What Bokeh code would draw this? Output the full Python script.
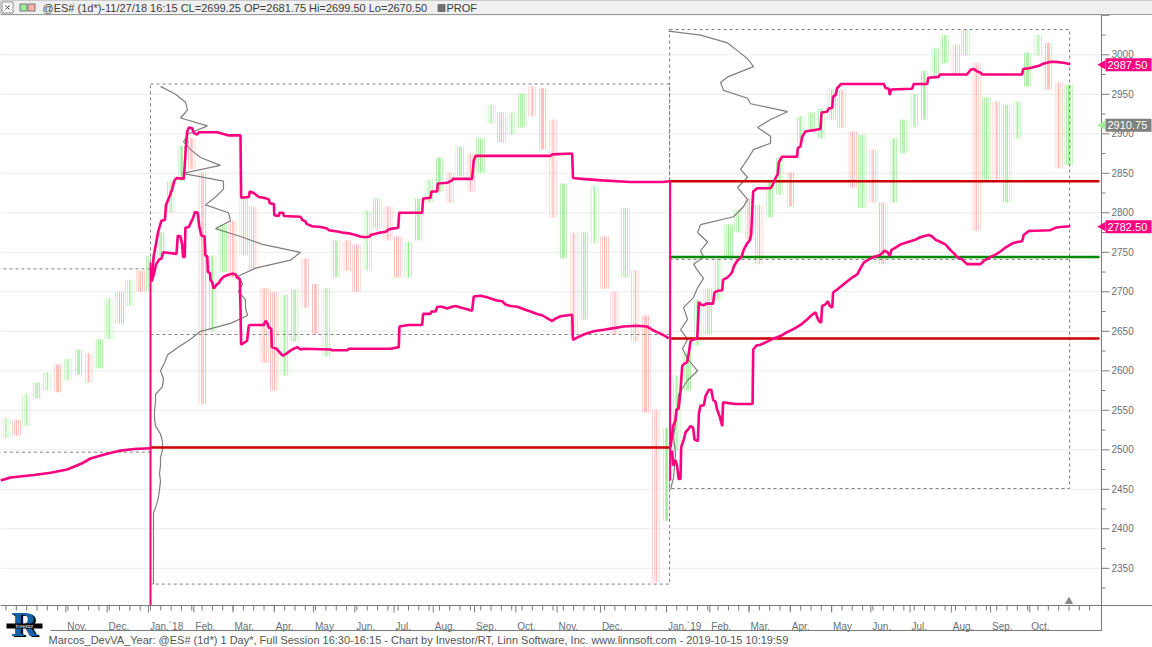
from bokeh.plotting import figure
from bokeh.models import Range1d
from bokeh.embed import file_html
from bokeh.resources import INLINE
from bokeh.core.properties import value

# ---------------- data (bar index: 0 = first session of 2018) ----------------
bar_x = list(range(-70, 446, 5))          # weekly bars
bar_hi = [2540, 2538, 2570, 2585, 2598, 2608, 2615, 2627, 2622, 2640, 2692, 2700, 2715, 2727,
          2746, 2775, 2840, 2885, 2895, 2851, 2746, 2785, 2790, 2818, 2808, 2705, 2700, 2696,
          2703, 2742, 2710, 2705, 2765, 2765, 2760, 2803, 2818, 2808, 2770, 2763, 2818, 2842,
          2870, 2851, 2884, 2875, 2894, 2937, 2927, 2927, 2951, 2960, 2958, 2918, 2837, 2775,
          2775, 2834, 2770, 2700, 2806, 2727, 2670, 2551, 2528, 2594, 2623, 2690, 2704, 2742,
          2785, 2804, 2818, 2810, 2842, 2870, 2851, 2922, 2927, 2932, 2956, 2956, 2903, 2899,
          2880, 2813, 2894, 2918, 2951, 2980, 3008, 3025, 3013, 3032, 2990, 2946, 2941, 2937,
          2941, 3003, 3025, 3015, 2965, 2962]
bar_lo = [2515, 2518, 2530, 2565, 2575, 2573, 2588, 2595, 2585, 2603, 2640, 2660, 2682, 2700,
          2700, 2745, 2800, 2840, 2855, 2558, 2650, 2725, 2718, 2746, 2728, 2610, 2575, 2594,
          2637, 2680, 2647, 2618, 2718, 2727, 2700, 2727, 2780, 2765, 2718, 2718, 2765, 2813,
          2827, 2813, 2846, 2827, 2851, 2913, 2889, 2899, 2908, 2922, 2880, 2794, 2742, 2647,
          2665, 2761, 2704, 2647, 2718, 2637, 2547, 2332, 2410, 2499, 2575, 2632, 2646, 2690,
          2742, 2775, 2765, 2735, 2794, 2823, 2808, 2889, 2903, 2894, 2918, 2908, 2832, 2806,
          2813, 2735, 2813, 2875, 2908, 2918, 2970, 2989, 2975, 2999, 2777, 2842, 2842, 2813,
          2894, 2960, 2999, 2956, 2856, 2860]
bar_op = [2520, 2535, 2532, 2567, 2580, 2600, 2590, 2598, 2618, 2605, 2645, 2695, 2685, 2722,
          2705, 2748, 2802, 2842, 2890, 2845, 2660, 2730, 2780, 2750, 2800, 2700, 2650, 2600,
          2645, 2735, 2705, 2625, 2722, 2760, 2755, 2730, 2785, 2805, 2765, 2722, 2770, 2815,
          2830, 2848, 2850, 2872, 2855, 2915, 2925, 2902, 2910, 2955, 2950, 2910, 2750, 2770,
          2670, 2765, 2765, 2695, 2725, 2720, 2660, 2545, 2415, 2505, 2580, 2635, 2650, 2692,
          2745, 2778, 2810, 2805, 2798, 2826, 2848, 2892, 2905, 2898, 2920, 2950, 2898, 2810,
          2875, 2808, 2815, 2880, 2910, 2920, 2972, 2992, 3010, 3000, 2985, 2845, 2938, 2820,
          2898, 2962, 3002, 3012, 2960, 2870]
bar_cl = [2535, 2522, 2568, 2582, 2595, 2580, 2612, 2622, 2592, 2636, 2688, 2672, 2712, 2708,
          2742, 2772, 2836, 2880, 2860, 2620, 2740, 2780, 2730, 2812, 2735, 2620, 2600, 2680,
          2698, 2690, 2655, 2700, 2760, 2740, 2705, 2798, 2812, 2770, 2722, 2760, 2815, 2840,
          2866, 2820, 2880, 2832, 2890, 2934, 2894, 2924, 2948, 2930, 2885, 2800, 2830, 2660,
          2770, 2830, 2710, 2655, 2800, 2640, 2555, 2345, 2520, 2590, 2620, 2685, 2700, 2740,
          2780, 2800, 2775, 2745, 2840, 2865, 2815, 2918, 2925, 2930, 2952, 2912, 2840, 2890,
          2818, 2745, 2890, 2912, 2948, 2975, 3005, 3020, 2980, 3028, 2830, 2940, 2850, 2930,
          2938, 3000, 3020, 2960, 2880, 2911]

# 2017 lower deviation line (ends at start of 2018)
dev17_x = [-72.7, -67.8, -56.5, -48.4, -40.4, -33.9, -29.1, -21.0, -14.5, -8.1, 0.0]
dev17_v = [2461, 2465, 2468, 2471, 2475, 2482, 2489, 2495, 2499, 2501, 2502]

# 2018 upper deviation band
up18_x = [0.5, 1.6, 2.6, 3.7, 5.3, 7.0, 7.5, 9.4, 10.5, 11.6, 12.6, 16.1, 16.6, 17.1, 17.8, 18.6,
          20.2, 21.0, 22.6, 23.4, 32.3, 37.9, 43.6, 43.9, 47.6, 48.1, 50.0, 52.5, 54.9, 57.3,
          57.8, 59.8, 60.0, 62.2, 62.5, 64.3, 64.6, 72.7, 73.5, 75.1, 75.6, 78.3, 82.4, 85.6,
          86.4, 91.3, 92.9, 96.1, 99.3, 101.7, 104.2, 106.3, 106.6, 111.4, 113.9, 115.5, 117.1,
          120.0, 120.5, 131.6, 132.1, 135.7, 136.1, 138.9, 139.2, 143.7, 146.1, 146.6, 155.8,
          156.6, 157.5, 193.8, 194.6, 204.3, 204.7, 209.1, 218.8, 232.5, 247.9, 251.8]
up18_v = [2715, 2746, 2760, 2776, 2790, 2791, 2810, 2822, 2830, 2841, 2844, 2843, 2860, 2882,
          2903, 2908, 2907, 2901, 2899, 2902, 2902, 2898, 2898, 2819, 2820, 2827, 2825, 2820,
          2819, 2817, 2812, 2811, 2797, 2796, 2800, 2800, 2796, 2795, 2791, 2789, 2786, 2783,
          2782, 2780, 2778, 2776, 2775, 2774, 2772, 2770, 2769, 2770, 2772, 2775, 2776, 2779,
          2780, 2781, 2800, 2800, 2818, 2819, 2827, 2827, 2837, 2838, 2841, 2843, 2843, 2866,
          2872, 2872, 2874, 2875, 2844, 2843, 2841, 2839, 2839, 2840]

# 2018 lower deviation band
lo18_x = [0.5, 1.6, 2.6, 4.2, 5.3, 6.1, 12.6, 13.2, 14.5, 15.3, 15.8, 16.6, 16.9, 18.6, 19.4,
          20.2, 20.7, 21.5, 22.9, 23.6, 24.7, 26.2, 26.6, 27.5, 27.8, 28.8, 29.1, 29.9, 30.7,
          32.0, 33.1, 33.9, 35.5, 37.1, 39.6, 41.2, 42.0, 43.3, 43.6, 43.9, 46.8, 47.6, 48.4,
          54.9, 55.7, 56.5, 57.3, 58.5, 58.8, 61.0, 63.0, 64.3, 65.4, 67.0, 68.6, 71.1, 72.7,
          74.3, 87.2, 88.0, 95.3, 96.1, 116.3, 120.3, 120.6, 122.7, 125.2, 131.6, 132.1, 135.7,
          136.1, 138.1, 138.9, 141.3, 143.7, 146.1, 147.8, 150.2, 153.4, 155.8, 156.6, 159.9,
          163.1, 165.5, 167.9, 170.4, 172.0, 174.4, 177.7, 180.9, 184.1, 187.3, 190.0, 194.6,
          196.2, 198.6, 204.3, 204.7, 206.7, 209.9, 214.7, 219.6, 224.4, 229.3, 235.7, 240.6,
          243.0, 245.4, 248.7, 251.1]
lo18_v = [2713, 2722, 2734, 2741, 2742, 2750, 2748, 2771, 2770, 2761, 2744, 2744, 2781, 2782,
          2787, 2791, 2794, 2801, 2800, 2783, 2771, 2770, 2746, 2745, 2725, 2724, 2715, 2712,
          2704, 2709, 2711, 2715, 2719, 2721, 2723, 2722, 2718, 2716, 2680, 2633, 2638, 2657,
          2658, 2658, 2663, 2661, 2655, 2653, 2630, 2628, 2622, 2619, 2621, 2624, 2627, 2630,
          2627, 2628, 2627, 2626, 2626, 2628, 2628, 2630, 2656, 2657, 2658, 2658, 2672, 2672,
          2675, 2675, 2681, 2681, 2679, 2681, 2682, 2680, 2678, 2676, 2694, 2695, 2693, 2691,
          2689, 2688, 2684, 2682, 2681, 2678, 2675, 2672, 2670, 2663, 2666, 2669, 2671, 2639,
          2642, 2646, 2650, 2652, 2654, 2656, 2657, 2656, 2652, 2649, 2645, 2641]

# 2019 upper deviation band
up19_x = [252.0, 253.2, 254.3, 254.8, 255.9, 256.8, 257.6, 258.7, 260.0, 260.8, 261.6, 262.4,
          264.9, 265.7, 266.5, 268.1, 269.2, 272.6, 273.2, 274.5, 277.0, 277.4, 279.4, 281.0,
          281.8, 282.6, 284.2, 285.5, 286.6, 287.4, 289.0, 290.3, 291.0, 292.0, 293.9, 300.4,
          301.2, 302.0, 302.8, 303.9, 304.4, 306.0, 313.3, 313.6, 314.9, 315.7, 317.3, 324.6,
          325.1, 327.8, 328.6, 330.3, 330.7, 331.9, 332.7, 334.6, 355.3, 356.1, 357.7, 358.2,
          358.8, 369.0, 369.8, 376.3, 376.8, 381.9, 382.4, 395.6, 397.3, 398.9, 400.5, 402.4,
          402.9, 422.3, 422.8, 425.5, 427.2, 430.4, 432.8, 436.0, 438.4, 442.5, 445.6]
up19_v = [2503, 2530, 2537, 2551, 2552, 2575, 2606, 2609, 2611, 2622, 2637, 2639, 2641, 2687,
          2684, 2683, 2685, 2685, 2699, 2701, 2702, 2715, 2718, 2722, 2725, 2732, 2739, 2742,
          2746, 2753, 2761, 2765, 2772, 2827, 2831, 2831, 2834, 2839, 2844, 2849, 2864, 2871,
          2871, 2882, 2884, 2896, 2903, 2906, 2927, 2928, 2932, 2933, 2947, 2949, 2958, 2963,
          2963, 2958, 2957, 2949, 2956, 2957, 2963, 2963, 2971, 2972, 2975, 2975, 2981, 2982,
          2979, 2977, 2975, 2975, 2982, 2983, 2984, 2986, 2989, 2991, 2991, 2990, 2988]

# 2019 lower deviation band
lo19_x = [252.7, 253.2, 254.3, 255.1, 255.9, 256.8, 257.1, 258.4, 259.2, 260.8, 261.6, 262.9,
          263.6, 265.2, 265.7, 266.5, 268.1, 268.9, 270.5, 271.7, 272.6, 273.7, 274.5, 275.8,
          277.0, 277.4, 283.4, 291.7, 292.0, 293.6, 295.5, 298.8, 302.0, 305.2, 308.4, 311.7,
          314.9, 318.1, 320.5, 322.2, 323.0, 323.8, 324.9, 325.4, 327.0, 328.2, 329.1, 330.3,
          330.7, 332.7, 335.1, 337.5, 339.9, 342.4, 344.0, 345.6, 348.0, 350.5, 353.7, 355.6,
          357.2, 358.2, 359.0, 361.0, 363.4, 365.8, 368.2, 370.6, 373.0, 375.5, 377.1, 378.7,
          380.3, 382.7, 385.1, 387.5, 389.5, 390.8, 393.2, 394.8, 395.6, 402.1, 403.7, 406.9,
          409.4, 411.8, 414.2, 417.4, 419.9, 422.3, 423.1, 425.5, 436.0, 438.4, 440.8, 445.6]
lo19_v = [2499, 2480, 2487, 2480, 2463, 2463, 2503, 2513, 2522, 2527, 2530, 2528, 2513, 2511,
          2546, 2556, 2556, 2568, 2576, 2576, 2563, 2561, 2551, 2542, 2530, 2560, 2558, 2558,
          2627, 2632, 2633, 2637, 2641, 2644, 2649, 2653, 2658, 2665, 2671, 2674, 2668, 2663,
          2661, 2682, 2684, 2688, 2682, 2680, 2699, 2703, 2708, 2713, 2718, 2722, 2730, 2737,
          2741, 2744, 2747, 2752, 2750, 2745, 2753, 2756, 2760, 2762, 2764, 2766, 2769, 2771,
          2772, 2770, 2766, 2763, 2760, 2753, 2748, 2744, 2741, 2737, 2735, 2735, 2739, 2744,
          2747, 2751, 2756, 2761, 2763, 2764, 2772, 2777, 2778, 2781, 2782, 2783]

# year-change connectors of the deviation lines
conn_x = [0.0, 251.8]
conn_lo = [2303, 2461]
conn_hi = [2737, 2840]

# yearly volume profiles (anchored at first bar of the year)
year_start = [0, 251]
prof18_price = [2330, 2340, 2350, 2360, 2370, 2380, 2390, 2400, 2410, 2420, 2430, 2440, 2450,
                2460, 2470, 2480, 2490, 2500, 2510, 2520, 2530, 2540, 2550, 2560, 2570, 2580,
                2590, 2600, 2610, 2620, 2630, 2640, 2650, 2660, 2670, 2680, 2690, 2700, 2710,
                2720, 2730, 2740, 2750, 2760, 2770, 2780, 2790, 2800, 2810, 2820, 2830, 2840,
                2850, 2860, 2870, 2880, 2890, 2900, 2910, 2920, 2930, 2940, 2950, 2960]
prof18_vol = [3, 3, 3, 3, 3, 3, 3, 3, 3, 3, 6, 8, 9, 10, 9, 10, 10, 12, 12, 10, 5, 4, 4, 5, 5,
              12, 13, 10, 14, 17, 28, 40, 50, 80, 97, 95, 95, 88, 92, 88, 105, 140, 150, 112,
              90, 65, 80, 78, 55, 65, 73, 73, 32, 70, 50, 40, 33, 38, 57, 30, 37, 35, 25, 10]
prof19_price = [2450, 2465, 2495, 2515, 2535, 2555, 2570, 2588, 2600, 2615, 2628, 2640, 2652,
                2665, 2680, 2693, 2705, 2717, 2727, 2735, 2744, 2752, 2763, 2775, 2785, 2795,
                2808, 2817, 2832, 2845, 2855, 2868, 2880, 2888, 2897, 2908, 2918, 2928, 2938,
                2945, 2955, 2965, 2972, 2985, 2995, 3005, 3015, 3025, 3030]
prof19_vol = [2, 5, 7, 5, 7, 9, 10, 19, 29, 19, 14, 19, 12, 19, 15, 25, 29, 35, 29, 25, 35, 32,
              39, 29, 32, 65, 75, 79, 69, 79, 72, 79, 85, 102, 102, 89, 102, 119, 82, 79, 55,
              52, 59, 85, 79, 69, 59, 32, 0]

# yearly boxes (high / low), value-area line, prior-year levels
box_left = [-80, 0, 251.5]
box_right = [0, 251.5, 445.3]
box_top = [2729, 2963, 3032]
box_bottom = [2497, 2330, 2451]
va_left = [0, 251.5]
va_right = [251.5, 445.3]
va_level = [2646, 2741]
red_left = [0, 251.5, 251.5]
red_right = [251.5, 459.8, 459.8]
red_level = [2503, 2840, 2641]
green_left = [251.5]
green_right = [459.8]
green_level = [2744]

last_upper = 2987.50
last_lower = 2782.50
last_close = 2910.75

# axis labels
y_ticks = [2350, 2400, 2450, 2500, 2550, 2600, 2650, 2700, 2750, 2800, 2850, 2900, 2950, 3000]
month_pos = [-41, -21, -1, 21, 40, 60, 79, 99, 118, 137, 157, 177, 197, 218, 250, 271, 290,
             310, 330, 349, 368, 388, 407, 426]
month_lbl = ["Nov.", "Dec.", "Jan.`18", "Feb.", "Mar.", "Apr.", "May", "Jun.", "Jul.", "Aug.",
             "Sep.", "Oct.", "Nov.", "Dec.", "Jan.`19", "Feb.", "Mar.", "Apr.", "May", "Jun.",
             "Jul.", "Aug.", "Sep.", "Oct."]

header_text = "@ES# (1d*)-11/27/18 16:15 CL=2699.25 OP=2681.75 Hi=2699.50 Lo=2670.50"
footer_text = ("Marcos_DevVA_Year: @ES# (1d*) 1 Day*, Full Session 16:30-16:15 - Chart by "
               "Investor/RT, Linn Software, Inc. www.linnsoft.com - 2019-10-15 10:19:59")

# ---------------- styling / layout helpers ----------------
FONT = "Liberation Sans"
PINK = "#ff0080"
RED = "#cc0000"
GREEN = "#008a00"
GRAY = "#7f7f7f"
AXIS = "#7a7a7a"
LBL = "#6a6f78"
BAR_UP = "#9ced96"
BAR_DN = "#ffb0aa"
PXB = 2.064      # pixels per bar
PXV = 0.790      # pixels per price point
W, H = 1152, 647


def bx(px):
    return (px - 150) / PXB


def vy(py):
    return 3000 - (py - 54.3) / PXV


p = figure(width=W, height=H, x_range=Range1d(bx(0), bx(W)), y_range=Range1d(vy(H), vy(0)),
           output_backend="svg", toolbar_location=None, x_axis_location=None,
           y_axis_location=None, title=None, min_border=0, outline_line_color=None,
           background_fill_color="white", border_fill_color="white")
p.xgrid.visible = False
p.ygrid.visible = False


def txt(x, y, s, size, color, align="left", baseline="middle", font=FONT, style="normal"):
    p.text(x=x, y=y, text=s, text_font=value(font), text_font_size=size, text_color=color,
           text_align=align, text_baseline=baseline, text_font_style=style)


# price-scale grid
grid_levels = y_ticks + [3050]
p.segment(x0=[bx(0)] * len(grid_levels), y0=grid_levels, x1=[bx(1101)] * len(grid_levels),
          y1=grid_levels, line_color="#ebebeb", line_width=1)

# price bars: each weekly range drawn as a bundle of thin pale strokes
cols = [BAR_UP if c >= o else BAR_DN for o, c in zip(bar_op, bar_cl)]
p.vbar(x=bar_x, width=4.4, top=bar_hi, bottom=bar_lo, fill_color=None, line_color=None,
       hatch_pattern="vertical_line", hatch_color=cols, hatch_scale=2.1, hatch_weight=1.1)
p.segment(x0=bar_x, y0=bar_lo, x1=bar_x, y1=bar_hi, line_color=cols, line_width=1)

# volume profiles
p.line([year_start[0] + v / PXB for v in prof18_vol], prof18_price, line_color=GRAY, line_width=1.2)
p.line([year_start[1] + v / PXB for v in prof19_vol], prof19_price, line_color=GRAY, line_width=1.2)

# dashed boxes and value-area lines
p.quad(left=box_left, right=box_right, top=box_top, bottom=box_bottom, fill_color=None,
       line_color=GRAY, line_dash="3 3", line_width=1)
p.segment(x0=va_left, y0=va_level, x1=va_right, y1=va_level, line_color=GRAY,
          line_dash="3 3", line_width=1)

# prior-year levels
p.segment(x0=red_left, y0=red_level, x1=red_right, y1=red_level, line_color=RED, line_width=2.5)
p.segment(x0=green_left, y0=green_level, x1=green_right, y1=green_level, line_color=GREEN,
          line_width=2.5)

# deviation bands
p.segment(x0=conn_x, y0=conn_lo, x1=conn_x, y1=conn_hi, line_color=PINK, line_width=2)
for xs, vs in [(dev17_x, dev17_v), (up18_x, up18_v), (lo18_x, lo18_v),
               (up19_x, up19_v), (lo19_x, lo19_v)]:
    p.line(xs, vs, line_color=PINK, line_width=2.6)

# last bar marker
p.scatter([bar_x[-1]], [vy(601)], marker="triangle", size=7, fill_color="#8a8a8a",
          line_color="#8a8a8a")

# ---- right price scale ----
p.segment(x0=[bx(1101)], y0=[vy(14)], x1=[bx(1101)], y1=[vy(630)], line_color=AXIS, line_width=1)
p.segment(x0=[bx(1101)] * len(grid_levels), y0=grid_levels, x1=[bx(1109)] * len(grid_levels),
          y1=grid_levels, line_color=AXIS, line_width=1)
minor_levels = [t + 25 for t in y_ticks] + [2325]
p.segment(x0=[bx(1101)] * len(minor_levels), y0=minor_levels, x1=[bx(1105)] * len(minor_levels),
          y1=minor_levels, line_color=AXIS, line_width=1)
txt([bx(1111)] * len(y_ticks), [t + 1 for t in y_ticks], [str(t) for t in y_ticks], "10px", LBL,
    baseline="alphabetic")

# value tags
tag_vals = [last_upper, last_close, last_lower]
tag_bg = [PINK, "#808080", PINK]
tag_arrow = [PINK, BAR_UP, PINK]
half = 6.5 / PXV
p.quad(left=[bx(1105)] * 3, right=[bx(1151)] * 3, top=[v + half for v in tag_vals],
       bottom=[v - half for v in tag_vals], fill_color=tag_bg, line_color=None)
p.scatter([bx(1102)] * 3, tag_vals, marker="triangle", angle=1.5708, size=9,
          fill_color=tag_arrow, line_color=None)
txt([bx(1107)] * 3, tag_vals, [f"{v:.2f}" for v in tag_vals], "11px", "white")

# ---- time axis ----
p.segment(x0=[bx(0)], y0=[vy(605)], x1=[bx(W)], y1=[vy(605)], line_color=AXIS, line_width=1)
p.segment(x0=[bx(50)], y0=[vy(630)], x1=[bx(1101)], y1=[vy(630)], line_color=AXIS, line_width=1)
week_ticks = list(range(-70, 456, 5))
p.segment(x0=week_ticks, y0=[vy(605)] * len(week_ticks), x1=week_ticks,
          y1=[vy(610)] * len(week_ticks), line_color=AXIS, line_width=1)
p.segment(x0=month_pos, y0=[vy(605)] * len(month_pos), x1=month_pos,
          y1=[vy(612)] * len(month_pos), line_color=AXIS, line_width=1)
txt([m + 0.7 for m in month_pos], [vy(626)] * len(month_pos), month_lbl, "10px", LBL,
    baseline="alphabetic")

# footer
txt([bx(48)], [vy(639)], [footer_text], "11px", "#555555")

# logo
txt([bx(12)], [vy(625)], ["R"], "32px", "black", font="DejaVu Serif", style="bold")
txt([bx(10)], [vy(624)], ["R"], "32px", "#1662a8", font="DejaVu Serif", style="bold")
p.quad(left=[bx(6)], right=[bx(42)], top=[vy(623)], bottom=[vy(628)], fill_color="black",
       line_color=None)
txt([bx(24)], [vy(625.5)], ["investor"], "5px", "white", align="center")

# header bar
p.quad(left=[bx(0)], right=[bx(W)], top=[vy(0)], bottom=[vy(14)], fill_color="#f0f0f0",
       line_color="#9a9a9a", line_width=1)
p.scatter([bx(7)], [vy(7)], marker="square", size=11, fill_color="white", line_color="#8a8a8a")
p.scatter([bx(7)], [vy(7)], marker="x", size=6, line_color="#444444")
p.scatter([bx(23), bx(31)], [vy(7), vy(7)], marker="square", size=7,
          fill_color=[BAR_UP, BAR_DN], line_color="#777777")
txt([bx(42)], [vy(7.5)], [header_text], "11px", "#3c3c3c")
p.scatter([bx(441)], [vy(7.5)], marker="square", size=7, fill_color="#707070", line_color="#707070")
txt([bx(446)], [vy(7.5)], ["PROF"], "11px", "#3c3c3c")

open("out.html", "w").write(file_html(p, INLINE))
